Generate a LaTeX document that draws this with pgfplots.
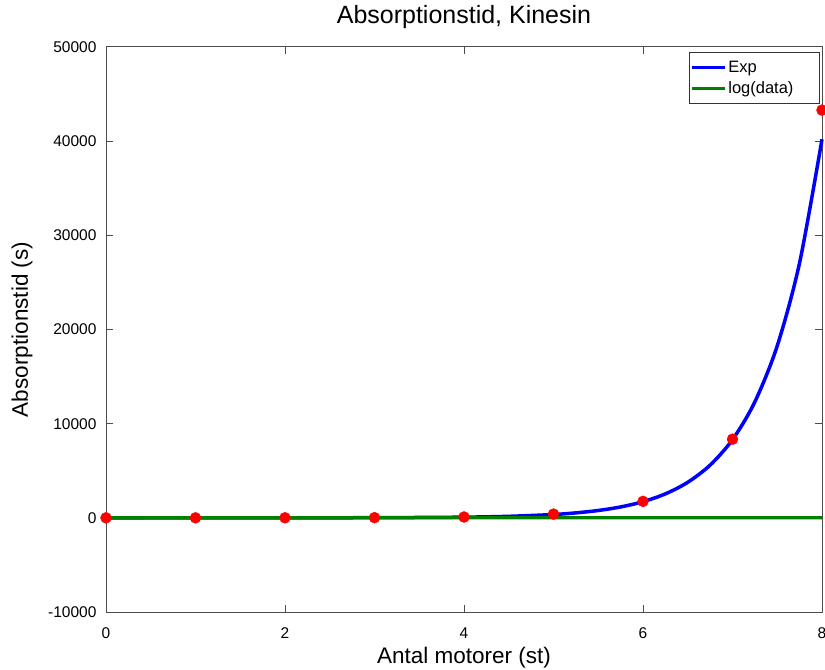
\documentclass[border=0pt]{standalone}
\usepackage{fontspec}
\setmainfont{Liberation Sans}
\usepackage{pgfplots}
\pgfplotsset{compat=1.18}
\begin{document}
\begin{tikzpicture}[x=1pt,y=1pt]
\begin{axis}[
  name=main,
  scale only axis,
  width=716pt, height=565pt,
  xmin=0, xmax=8, ymin=-10000, ymax=50000,
  xtick={0,2,4,6,8},
  ytick={-10000,0,10000,20000,30000,40000,50000},
  scaled y ticks=false,
  /pgf/number format/assume math mode=true,
  /pgf/number format/fixed,
  /pgf/number format/1000 sep={},
  tick label style={font=\fontsize{15.5}{18}\selectfont, text=black},
  xticklabel style={anchor=base, yshift=-26pt},
  yticklabel style={anchor=east, xshift=-6pt},
  tick align=inside,
  major tick length=7pt,
  axis line style={black!70, line width=1pt},
  tick style={black!70, line width=1pt},
  title={Absorptionstid, Kinesin},
  title style={at={(axis description cs:0.5,1)}, anchor=base, yshift=17pt, font=\fontsize{25}{28}\selectfont},
  xlabel={Antal motorer (st)},
  ylabel={Absorptionstid (s)},
  label style={font=\fontsize{22.5}{26}\selectfont},
  xlabel style={at={(axis description cs:0.5,0)}, anchor=base, yshift=-51pt},
  ylabel style={at={(axis description cs:0,0.5)}, anchor=base, yshift=78pt},
  legend style={at={(rel axis cs:0.997,0.991)}, anchor=north east, font=\fontsize{16.5}{19}\selectfont, draw=black!80, line width=1pt, inner xsep=1pt, inner ysep=6.5pt, row sep=4pt},
  legend cell align=left,
  legend image code/.code={\draw[#1, line width=3.3pt] (0pt,0pt) -- (33pt,0pt);},
  clip=false,
]
\addplot[blue, line width=3.5pt, smooth] coordinates {
(0,0.13) (1,0.64) (2,3.1) (3,15.1) (4,73.3) (4.5,161) (5,354.6) (5.25,526) (5.5,780) (5.75,1157)
(6,1716) (6.25,2545) (6.5,3775) (6.75,5600) (7,8306) (7.25,12320) (7.5,18273) (7.75,27103) (8,40200)
};
\addlegendentry{\makebox[88pt][l]{Exp}}
\addplot[green!50!black, line width=3.3pt] coordinates {
(0,-2.0) (8,10.6)
};
\addlegendentry{\makebox[88pt][l]{log(data)}}
\addplot[only marks, mark=*, mark size=5.5pt, red, mark options={fill=red, draw=red}, forget plot] coordinates {
(0,1) (1,2) (2,5) (3,20) (4,90) (5,400) (6,1750) (7,8350) (8,43300)
};
\end{axis}
\pgfresetboundingbox
\path ([xshift=-106pt,yshift=-57pt]main.south west) rectangle ([xshift=3pt,yshift=47pt]main.north east);
\end{tikzpicture}
\end{document}
